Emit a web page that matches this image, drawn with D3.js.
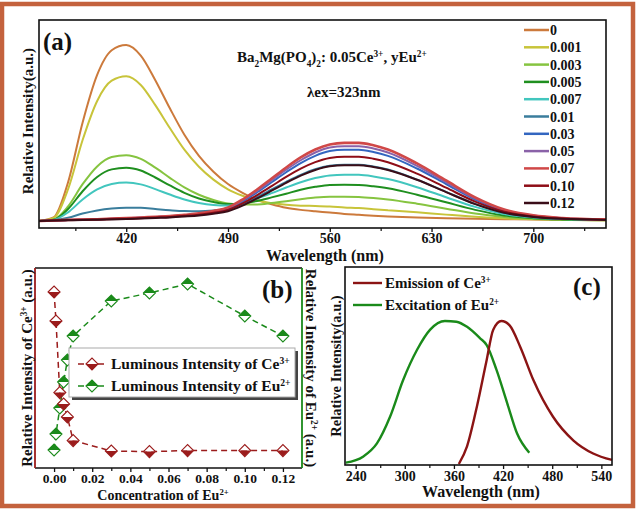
<!DOCTYPE html>
<html><head><meta charset="utf-8">
<script src="https://cdn.jsdelivr.net/npm/d3@7"></script>
<style>
body{margin:0;background:#fff}
text{font-family:"Liberation Serif","Times New Roman",serif;font-weight:bold;fill:#111}
</style></head>
<body><svg id="chart" width="638" height="512"></svg>
<script>
// ---------- Panel (a) data ----------
const wavelengths = [360,370,380,390,400,410,420,430,440,450,460,470,480,490,500,510,520,530,540,550,560,570,580,590,600,620,640,660,680,700,720,750];
const concLabels = ["0","0.001","0.003","0.005","0.007","0.01","0.03","0.05","0.07","0.10","0.12"];
const seriesColors = ["#cc7a3c","#c8c43a","#86c440","#1f8f1f","#42c6be","#3a7d9c","#3366c0","#8a62a8","#d04848","#8e0d17","#3a0d18"];
const em_0     = [0,.02,.22,.56,.83,.97,1.00,.94,.80,.64,.49,.37,.28,.21,.16,.12,.095,.075,.063,.055,.048,.040,.035,.030,.026,.020,.016,.013,.010,.008,.006,.004];
const em_0001  = [0,.017,.181,.460,.682,.797,.822,.773,.658,.528,.405,.308,.235,.180,.143,.116,.102,.092,.087,.085,.082,.077,.073,.067,.061,.049,.036,.024,.015,.010,.007,.004];
const em_0003  = [0,.008,.083,.209,.310,.363,.374,.353,.303,.245,.191,.149,.119,.099,.093,.094,.102,.112,.123,.133,.138,.138,.136,.130,.122,.098,.070,.042,.022,.012,.007,.004];
const em_0005  = [0,.007,.068,.169,.250,.293,.303,.287,.247,.202,.160,.128,.108,.096,.101,.114,.134,.155,.177,.194,.205,.206,.205,.197,.186,.149,.106,.063,.031,.016,.009,.005];
const em_0007  = [0,.006,.049,.122,.179,.210,.218,.208,.181,.150,.122,.102,.091,.088,.103,.128,.158,.190,.220,.244,.259,.263,.262,.253,.238,.192,.135,.080,.039,.020,.011,.006];
const em_001   = [0,.004,.018,.042,.060,.071,.075,.075,.068,.061,.056,.055,.059,.068,.097,.136,.179,.222,.262,.294,.314,.320,.320,.309,.292,.235,.165,.097,.047,.023,.012,.007];
const em_003   = [0,.003,.005,.007,.009,.012,.015,.018,.022,.026,.032,.039,.052,.070,.111,.163,.220,.277,.329,.370,.397,.405,.405,.392,.370,.298,.210,.122,.059,.029,.015,.008];
const em_005   = [0,.003,.006,.008,.009,.012,.015,.019,.023,.027,.033,.041,.055,.074,.117,.171,.231,.291,.345,.389,.417,.425,.425,.412,.389,.313,.220,.128,.062,.031,.016,.009];
const em_007   = [0,.003,.006,.008,.010,.013,.016,.020,.024,.028,.035,.043,.057,.077,.122,.179,.241,.304,.361,.406,.435,.444,.444,.430,.406,.327,.230,.134,.065,.032,.017,.009];
const em_010   = [0,.003,.005,.007,.008,.011,.013,.016,.020,.023,.029,.036,.047,.063,.100,.147,.198,.250,.297,.334,.358,.365,.365,.354,.334,.269,.189,.110,.053,.026,.014,.007];
const em_012   = [0,.002,.004,.006,.007,.009,.011,.014,.017,.020,.025,.031,.041,.055,.087,.128,.172,.217,.258,.290,.311,.317,.317,.307,.290,.234,.164,.096,.046,.023,.012,.006];
const seriesA = [em_0,em_0001,em_0003,em_0005,em_0007,em_001,em_003,em_005,em_007,em_010,em_012];
const ticksA = [420,490,560,630,700];
const minorTicksA = [385,455,525,595,665,735];

// ---------- Panel (b) data ----------
const euConc = [0,0.001,0.003,0.005,0.007,0.01,0.03,0.05,0.07,0.10,0.12];
const ceIntensity = [0.88,0.735,0.377,0.32,0.255,0.137,0.085,0.082,0.087,0.087,0.087];
const euIntensity = [0.09,0.17,0.30,0.43,0.54,0.66,0.835,0.875,0.92,0.76,0.66];
const ticksB = [0,0.02,0.04,0.06,0.08,0.10,0.12];
const minorTicksB = [0.01,0.03,0.05,0.07,0.09,0.11];

// ---------- Panel (c) data ----------
const exWavelength = [228,249,266,282,298,315,331,349,363,376,392,400,412,425,437,452];
const exIntensity  = [0.016,0.058,0.15,0.335,0.59,0.80,0.94,1.0,0.995,0.96,0.88,0.833,0.66,0.43,0.22,0.085];
const ceEmWavelength = [366,376,388,400,408,418,428,441,457,481,506,530,553];
const ceEmIntensity  = [0.007,0.13,0.405,0.73,0.94,1.0,0.97,0.82,0.59,0.335,0.17,0.08,0.035];
const ticksC = [240,300,360,420,480,540];
const minorTicksC = [270,330,390,450,510];

const svg = d3.select("#chart");
const CE = "#9b1c1c", EU = "#1a8a1a";

function rich(t, parts, fs){
  parts.forEach(([s,k])=>{
    const ts = t.append("tspan").text(s);
    if(k==="sup") ts.attr("baseline-shift","super").attr("font-size",fs*0.62);
    else if(k==="sub") ts.attr("baseline-shift","sub").attr("font-size",fs*0.62);
    else ts.attr("font-size",fs);
  });
  return t;
}
function axis(g, scale, y, major, minor, fmt, fs, pad){
  const a = g.append("g").attr("transform",`translate(0,${y})`)
    .call(d3.axisBottom(scale).tickValues(major).tickSize(4).tickPadding(pad).tickFormat(fmt));
  a.select(".domain").remove();
  a.selectAll("line").attr("stroke","#111").attr("stroke-width",1.3);
  a.selectAll("text").attr("font-size",fs).attr("font-family","Liberation Serif").attr("font-weight","bold").attr("fill","#111");
  const m = g.append("g").attr("transform",`translate(0,${y})`)
    .call(d3.axisBottom(scale).tickValues(minor).tickSize(3).tickFormat(""));
  m.select(".domain").remove();
  m.selectAll("line").attr("stroke","#111").attr("stroke-width",1.2);
}

// outer frame
svg.append("rect").attr("x",2).attr("y",4).attr("width",631).attr("height",502)
  .attr("fill","none").attr("stroke","#c4623d").attr("stroke-width",4.5);

// ================= Panel (a) =================
{
  const L=39,R=606,T=20,B=228;
  const x = d3.scaleLinear([360,750],[L,R]);
  const y = d3.scaleLinear([-0.04,1.142],[B,T]);
  const g = svg.append("g");
  g.append("clipPath").attr("id","clipA").append("rect").attr("x",L).attr("y",T).attr("width",R-L).attr("height",B-T);
  const line = d3.line().x((d,i)=>x(wavelengths[i])).y(d=>y(d)).curve(d3.curveMonotoneX);
  const cg = g.append("g").attr("clip-path","url(#clipA)");
  seriesA.forEach((s,i)=>{
    cg.append("path").attr("d",line(s)).attr("fill","none").attr("stroke",seriesColors[i])
      .attr("stroke-width", i===8?2.6:2).attr("stroke-linejoin","round");
  });
  g.append("rect").attr("x",L).attr("y",T).attr("width",R-L).attr("height",B-T)
    .attr("fill","none").attr("stroke","#111").attr("stroke-width",1.6);
  axis(g,x,B,ticksA,minorTicksA,d3.format("d"),14,1);
  g.append("text").attr("x",325).attr("y",261).attr("text-anchor","middle").attr("font-size",16).text("Wavelength (nm)");
  g.append("text").attr("transform","translate(33,121) rotate(-90)").attr("text-anchor","middle").attr("font-size",15).text("Relative Intensity(a.u.)");
  g.append("text").attr("x",43).attr("y",50).attr("font-size",25).text("(a)");
  rich(g.append("text").attr("x",237).attr("y",62),
    [["Ba","n"],["2","sub"],["Mg(PO","n"],["4","sub"],[")","n"],["2","sub"],[": 0.05Ce","n"],["3+","sup"],[", yEu","n"],["2+","sup"]],15);
  g.append("text").attr("x",307).attr("y",97).attr("font-size",15).text("λex=323nm");
  // legend
  concLabels.forEach((lab,i)=>{
    const yy = 30 + i*17.3;
    g.append("line").attr("x1",524).attr("x2",549).attr("y1",yy).attr("y2",yy)
      .attr("stroke",seriesColors[i]).attr("stroke-width",2.5);
    g.append("text").attr("x",550).attr("y",yy+5).attr("font-size",14).text(lab);
  });
}

// ================= Panel (b) =================
{
  const L=35,R=302,T=268,B=468;
  const x = d3.scaleLinear([-0.01,0.13],[L,R]);
  const y = d3.scaleLinear([0,1],[B,T]);
  const g = svg.append("g");
  g.append("line").attr("x1",L).attr("x2",R).attr("y1",T).attr("y2",T).attr("stroke","#111").attr("stroke-width",1.6);
  g.append("line").attr("x1",L).attr("x2",R).attr("y1",B).attr("y2",B).attr("stroke","#111").attr("stroke-width",1.6);
  g.append("line").attr("x1",L).attr("x2",L).attr("y1",T).attr("y2",B).attr("stroke",CE).attr("stroke-width",1.8);
  g.append("line").attr("x1",R).attr("x2",R).attr("y1",T).attr("y2",B).attr("stroke",EU).attr("stroke-width",1.8);
  axis(g,x,B,ticksB,minorTicksB,d3.format(".2f"),13.5,1);

  const line = d3.line().x((d,i)=>x(euConc[i])).y(d=>y(d));
  g.append("path").attr("d",line(ceIntensity)).attr("fill","none").attr("stroke",CE).attr("stroke-width",1.5).attr("stroke-dasharray","6,4");
  g.append("path").attr("d",line(euIntensity)).attr("fill","none").attr("stroke",EU).attr("stroke-width",1.5).attr("stroke-dasharray","6,4");

  function diamond(cx, cy, color, bottomFilled){
    const r=6;
    g.append("path").attr("d",`M${cx-r},${cy}L${cx},${cy-r}L${cx+r},${cy}Z`).attr("fill",bottomFilled?"#fff":color);
    g.append("path").attr("d",`M${cx-r},${cy}L${cx},${cy+r}L${cx+r},${cy}Z`).attr("fill",bottomFilled?color:"#fff");
    g.append("path").attr("d",`M${cx-r},${cy}L${cx},${cy-r}L${cx+r},${cy}L${cx},${cy+r}Z`)
      .attr("fill","none").attr("stroke",color).attr("stroke-width",1.1);
  }
  euIntensity.forEach((v,i)=>diamond(x(euConc[i]),y(v),EU,false));
  ceIntensity.forEach((v,i)=>diamond(x(euConc[i]),y(v),CE,true));

  // legend
  g.append("rect").attr("x",72).attr("y",351).attr("width",226).attr("height",49).attr("fill","#444");
  g.append("rect").attr("x",69).attr("y",348).attr("width",226).attr("height",49).attr("fill","#fff").attr("stroke","#aaa").attr("stroke-width",1);
  [[364,CE,true,"Ce","3+"],[386,EU,false,"Eu","2+"]].forEach(([yy,col,bf,el,ch])=>{
    g.append("line").attr("x1",78).attr("x2",106).attr("y1",yy).attr("y2",yy).attr("stroke",col).attr("stroke-width",1.5).attr("stroke-dasharray","6,4");
    diamond(92,yy,col,bf);
    rich(g.append("text").attr("x",111).attr("y",yy+5),[["Luminous Intensity of "+el,"n"],[ch,"sup"]],15.5);
  });
  g.append("text").attr("x",262).attr("y",298).attr("font-size",25).text("(b)");
  rich(g.append("text").attr("x",163).attr("y",500).attr("text-anchor","middle"),[["Concentration of Eu","n"],["2+","sup"]],14);
  rich(g.append("text").attr("transform","translate(32,368) rotate(-90)").attr("text-anchor","middle"),
    [["Relative Intensity of Ce","n"],["3+","sup"],[" (a.u.)","n"]],15);
  rich(g.append("text").attr("transform","translate(306,368) rotate(90)").attr("text-anchor","middle"),
    [["Relative Intensity of Eu","n"],["2+","sup"],[" (a.u.)","n"]],15);
}

// ================= Panel (c) =================
{
  const L=345,R=612,T=267,B=465;
  const x = d3.scaleLinear([227,553],[L,R]);
  const y = d3.scaleLinear([0,1.375],[B,T]);
  const g = svg.append("g");
  const lineEx = d3.line().x((d,i)=>x(exWavelength[i])).y(d=>y(d)).curve(d3.curveMonotoneX);
  const lineEm = d3.line().x((d,i)=>x(ceEmWavelength[i])).y(d=>y(d)).curve(d3.curveMonotoneX);
  g.append("path").attr("d",lineEx(exIntensity)).attr("fill","none").attr("stroke",EU).attr("stroke-width",2.4);
  g.append("path").attr("d",lineEm(ceEmIntensity)).attr("fill","none").attr("stroke","#8b1414").attr("stroke-width",2.4);
  g.append("rect").attr("x",L).attr("y",T).attr("width",R-L).attr("height",B-T)
    .attr("fill","none").attr("stroke","#111").attr("stroke-width",1.6);
  axis(g,x,B,ticksC,minorTicksC,d3.format("d"),14,2);
  g.append("text").attr("x",481).attr("y",497).attr("text-anchor","middle").attr("font-size",16).text("Wavelength (nm)");
  g.append("text").attr("transform","translate(341,366) rotate(-90)").attr("text-anchor","middle").attr("font-size",14.5).text("Relative Intensity(a.u.)");
  g.append("text").attr("x",573).attr("y",295).attr("font-size",25).text("(c)");
  [[283,"#8b1414","Emission of Ce","3+"],[305,EU,"Excitation of Eu","2+"]].forEach(([yy,col,t,ch])=>{
    g.append("line").attr("x1",353).attr("x2",382).attr("y1",yy).attr("y2",yy).attr("stroke",col).attr("stroke-width",2.4);
    rich(g.append("text").attr("x",385).attr("y",yy+5),[[t,"n"],[ch,"sup"]],15);
  });
}
</script></body></html>
